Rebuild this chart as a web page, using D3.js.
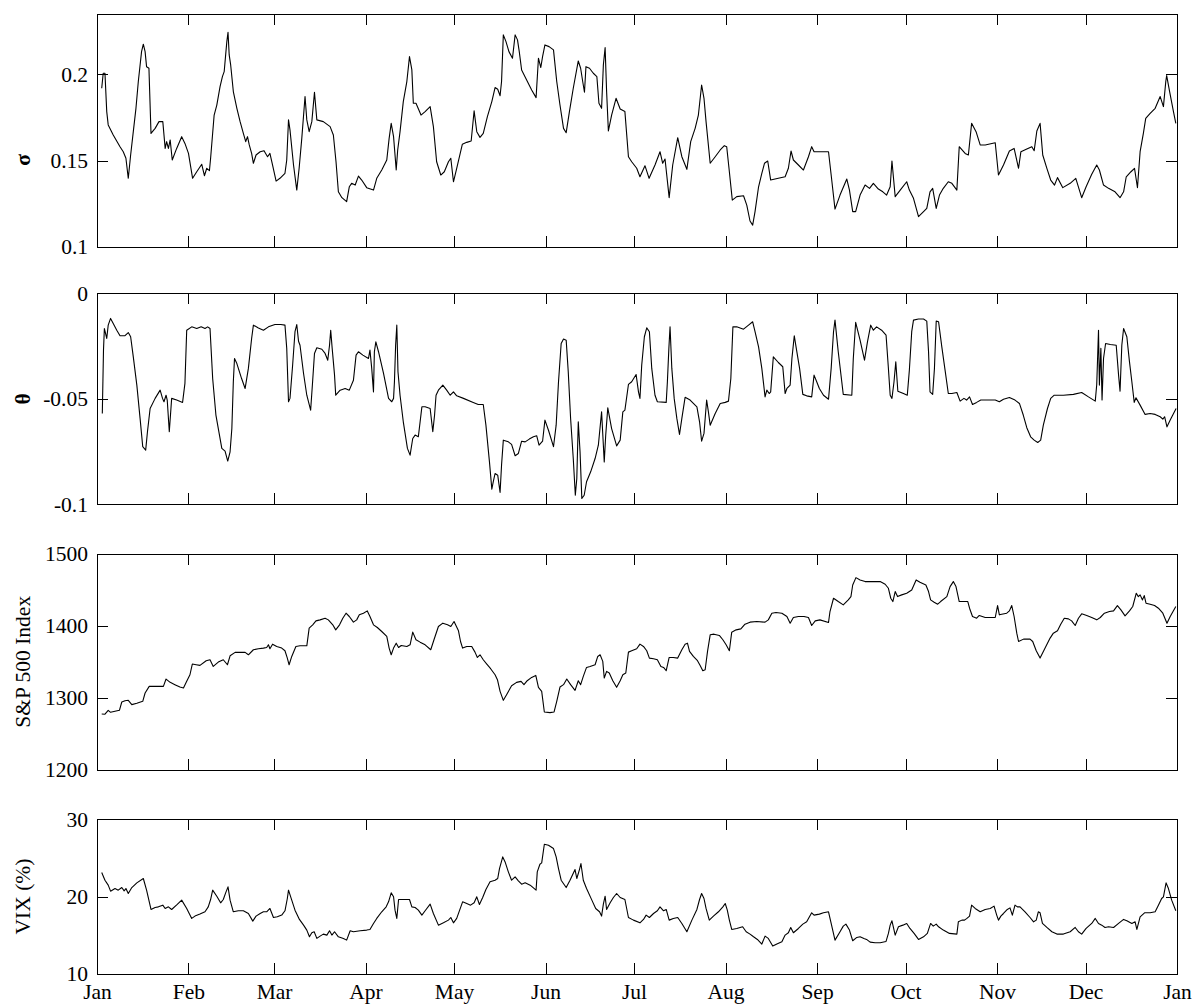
<!DOCTYPE html>
<html>
<head>
<meta charset="utf-8">
<script src="https://cdn.jsdelivr.net/npm/d3@7"></script>
<style>
  html, body { margin: 0; padding: 0; background: #fff; }
  svg text { font-family: "Liberation Serif", "Times New Roman", serif; fill: #000; }
</style>
</head>
<body>
<div id="chart"></div>
<script>
// day of year 2012 (0 = Jan 1) and value
const sigmaData = [
[1.6,.1919],[2.1,.2006],[2.7,.2006],[3.3,.1784],[3.8,.1707],[5.5,.1649],[7.8,.1581],[8.9,.1552],[9.8,.1514],[10.6,.1398],[11.4,.1533],[12.3,.1668],[13.2,.1803],[14.0,.1958],[15.1,.2131],[15.7,.2174],[16.3,.2131],[16.8,.2044],[17.6,.2035],[18.3,.1658],[19.7,.1687],[21.0,.1726],[22.3,.1726],[23.1,.1571],[23.6,.1610],[24.2,.1571],[24.8,.1620],[25.5,.1504],[27.0,.1571],[28.7,.1639],[29.8,.1600],[31.0,.1542],[32.4,.1398],[33.8,.1436],[35.5,.1479],[36.4,.1413],[37.2,.1456],[38.1,.1442],[38.5,.1514],[39.7,.1764],[40.6,.1822],[41.7,.1929],[42.5,.1986],[43.1,.2015],[43.6,.2112],[44.0,.2189],[44.4,.2243],[44.8,.2112],[45.3,.2054],[46.2,.1900],[47.4,.1803],[48.5,.1726],[49.6,.1658],[50.4,.1610],[51.0,.1639],[51.6,.1591],[52.4,.1542],[53.0,.1485],[53.9,.1533],[55.3,.1552],[56.6,.1558],[57.8,.1523],[58.6,.1542],[59.5,.1475],[60.7,.1382],[62.0,.1398],[63.7,.1427],[64.3,.1504],[64.9,.1736],[65.4,.1678],[66.6,.1475],[67.7,.1330],[68.5,.1456],[69.4,.1629],[70.5,.1871],[71.1,.1736],[71.9,.1668],[72.8,.1726],[73.7,.1896],[74.5,.1736],[76.7,.1726],[79.0,.1697],[80.1,.1649],[81.0,.1494],[81.8,.1320],[83.0,.1286],[84.6,.1263],[85.5,.1349],[86.3,.1369],[87.5,.1359],[88.6,.1411],[89.7,.1388],[91.4,.1344],[93.7,.1330],[94.8,.1398],[96.5,.1446],[98.2,.1504],[99.0,.1629],[99.7,.1716],[100.5,.1639],[101.4,.1446],[101.9,.1562],[102.7,.1668],[103.8,.1842],[105.0,.1958],[105.9,.2102],[106.7,.2025],[107.2,.1832],[108.1,.1832],[109.8,.1764],[111.2,.1784],[112.9,.1813],[114.0,.1697],[115.1,.1494],[116.5,.1417],[117.7,.1436],[119.1,.1494],[119.9,.1514],[120.8,.1378],
[121.9,.1456],[123.8,.1595],[125.3,.1606],[126.8,.1614],[127.8,.1788],[128.7,.1668],[129.8,.1635],[130.9,.1658],[132.3,.1755],[133.8,.1842],[134.9,.1923],[135.8,.1913],[136.6,.1876],[137.1,.1958],[137.7,.2228],[138.6,.2189],[139.6,.2131],[140.8,.2093],[141.7,.2228],[142.5,.2199],[143.1,.2131],[143.9,.2025],[145.6,.1967],[147.3,.1909],[148.8,.1865],[149.6,.2093],[150.4,.2039],[151.0,.2102],[151.8,.2170],[153.2,.2160],[154.7,.2141],[155.8,.1958],[156.9,.1822],[158.1,.1687],[159.0,.1662],[160.1,.1784],[161.4,.1919],[163.1,.2077],[163.9,.2035],[164.6,.1958],[165.2,.1896],[165.7,.2044],[166.9,.2035],[168.2,.2006],[169.4,.1986],[170.1,.1832],[171.0,.1803],[171.6,.2054],[172.2,.2154],[172.7,.1900],[173.3,.1672],[174.4,.1764],[175.9,.1861],[177.3,.1799],[178.9,.1784],[180.1,.1523],[181.2,.1494],[182.9,.1456],[184.0,.1407],[185.7,.1471],[187.1,.1398],[189.1,.1475],[190.8,.1552],[191.7,.1485],[192.5,.1510],[193.9,.1286],[195.1,.1475],[196.8,.1633],[198.2,.1523],[199.9,.1450],[201.2,.1610],[202.7,.1687],[203.8,.1764],[204.9,.1938],[205.7,.1861],[206.4,.1726],[207.8,.1485],[209.5,.1523],[211.2,.1562],[212.6,.1587],[213.4,.1581],[214.3,.1436],[215.3,.1272],[216.8,.1292],[219.1,.1297],[220.2,.1243],[221.3,.1151],[222.2,.1127],[223.0,.1205],[224.2,.1349],[225.3,.1427],[226.2,.1485],[227.3,.1498],[228.3,.1388],[230.9,.1398],[233.2,.1407],[234.3,.1456],[235.2,.1556],[236.0,.1504],[237.7,.1475],[239.4,.1446],[241.1,.1523],[242.2,.1581],[243.0,.1552],
[245.0,.1552],[247.9,.1552],[248.8,.1417],[250.1,.1220],[251.8,.1301],[254.1,.1394],[255.0,.1330],[256.1,.1205],[257.1,.1205],[258.6,.1301],[260.3,.1359],[261.8,.1340],[263.1,.1369],[264.8,.1336],[266.3,.1320],[267.6,.1301],[268.8,.1349],[269.4,.1498],[270.5,.1292],[272.2,.1330],[274.4,.1378],[275.3,.1330],[276.7,.1282],[278.4,.1176],[280.1,.1205],[281.2,.1224],[282.3,.1320],[283.2,.1340],[284.4,.1224],[285.5,.1301],[286.8,.1340],[288.5,.1378],[289.7,.1369],[291.4,.1330],[292.2,.1581],[294.2,.1542],[295.3,.1533],[296.4,.1716],[297.9,.1668],[299.3,.1591],[301.0,.1591],[304.4,.1604],[305.5,.1417],[307.2,.1475],[309.2,.1556],[310.8,.1571],[312.3,.1456],[313.1,.1552],[315.1,.1568],[316.8,.1581],[317.6,.1558],[318.5,.1672],[319.6,.1716],[320.5,.1533],[321.9,.1456],[323.2,.1388],[324.5,.1359],[325.5,.1402],[327.3,.1344],[329.8,.1369],[331.7,.1398],[333.7,.1286],[335.2,.1349],[337.1,.1421],[338.8,.1475],[339.7,.1446],[341.1,.1359],[342.8,.1340],[345.0,.1320],[346.7,.1286],[347.9,.1320],[348.8,.1407],[350.4,.1436],[351.6,.1456],[352.6,.1344],[353.5,.1552],[354.6,.1658],[355.4,.1745],[356.9,.1774],[358.6,.1803],[360.3,.1871],[361.4,.1813],[362.2,.1958],[362.5,.1992],[363.5,.1900],[364.8,.1784],[365.6,.1716]
];

const thetaData = [
[1.8,-.0570],[2.2,-.0269],[2.5,-.0167],[2.9,-.0190],[3.3,-.0214],[3.8,-.0151],[4.6,-.0119],[5.5,-.0143],[6.7,-.0175],[7.8,-.0201],[9.5,-.0201],[10.6,-.0186],[11.4,-.0206],[12.3,-.0301],[13.5,-.0435],[14.6,-.0593],[15.5,-.0727],[16.5,-.0743],[17.1,-.0656],[18.0,-.0546],[19.7,-.0498],[21.4,-.0459],[22.2,-.0498],[22.7,-.0514],[23.4,-.0483],[23.8,-.0506],[24.5,-.0656],[25.3,-.0498],[27.0,-.0506],[29.0,-.0517],[29.8,-.0427],[30.4,-.0175],[32.1,-.0159],[33.8,-.0167],[35.3,-.0159],[36.6,-.0167],[37.5,-.0159],[38.3,-.0167],[39.2,-.0404],[40.3,-.0577],[42.3,-.0735],[43.4,-.0748],[44.3,-.0795],[45.1,-.0751],[45.7,-.0641],[46.2,-.0419],[46.6,-.0309],[47.4,-.0333],[49.0,-.0404],[50.2,-.0451],[51.3,-.0356],[52.4,-.0214],[53.0,-.0151],[54.7,-.0164],[56.4,-.0175],[58.1,-.0159],[60.3,-.0148],[62.3,-.0148],[63.7,-.0151],[64.3,-.0261],[64.9,-.0514],[65.4,-.0498],[66.3,-.0340],[67.1,-.0182],[67.7,-.0148],[68.3,-.0227],[68.8,-.0246],[70.0,-.0380],[71.1,-.0483],[72.4,-.0554],[73.1,-.0412],[73.7,-.0285],[74.5,-.0258],[76.2,-.0265],[77.3,-.0285],[78.2,-.0317],[78.8,-.0246],[79.2,-.0175],[79.7,-.0261],[80.5,-.0388],[80.9,-.0483],[82.4,-.0459],[84.1,-.0451],[85.5,-.0459],[86.9,-.0412],[87.8,-.0293],[88.6,-.0277],[90.1,-.0293],[92.0,-.0309],[92.5,-.0269],[93.1,-.0356],[93.7,-.0467],[94.0,-.0277],[94.5,-.0230],[95.4,-.0277],[97.1,-.0380],[98.8,-.0498],[99.9,-.0514],[100.5,-.0498],[100.8,-.0419],[101.2,-.0246],[101.6,-.0151],[102.0,-.0372],[102.7,-.0483],[103.8,-.0609],[105.2,-.0735],[106.1,-.0767],[107.0,-.0688],[107.8,-.0672],[108.9,-.0680],[110.1,-.0538],[111.2,-.0538],[112.9,-.0546],[113.8,-.0656],[114.4,-.0577],[114.9,-.0483],[115.7,-.0459],[117.2,-.0435],[118.5,-.0459],[119.7,-.0483],[120.8,-.0467],
[121.9,-.0486],[124.2,-.0498],[127.5,-.0517],[129.2,-.0527],[130.9,-.0527],[131.8,-.0625],[133.0,-.0799],[133.8,-.0928],[134.3,-.0893],[134.9,-.0854],[135.8,-.0862],[136.6,-.0944],[137.1,-.0814],[137.7,-.0696],[139.4,-.0704],[140.5,-.0716],[141.7,-.0770],[142.8,-.0759],[143.9,-.0701],[145.1,-.0704],[146.5,-.0691],[147.9,-.0680],[149.0,-.0675],[149.8,-.0720],[151.0,-.0701],[151.8,-.0601],[153.0,-.0649],[154.7,-.0727],[155.6,-.0625],[156.4,-.0419],[157.3,-.0238],[158.1,-.0217],[159.0,-.0222],[159.7,-.0372],[160.5,-.0593],[161.4,-.0783],[162.1,-.0957],[162.6,-.0878],[163.1,-.0609],[163.7,-.0751],[164.3,-.0972],[165.1,-.0957],[165.9,-.0893],[167.3,-.0846],[168.8,-.0783],[169.9,-.0720],[171.0,-.0562],[171.6,-.0720],[171.9,-.0799],[172.4,-.0672],[173.1,-.0543],[174.4,-.0641],[176.1,-.0723],[177.3,-.0696],[178.2,-.0562],[178.9,-.0554],[180.1,-.0432],[181.2,-.0419],[182.7,-.0385],[183.5,-.0467],[184.0,-.0498],[184.6,-.0340],[185.5,-.0206],[186.3,-.0164],[187.2,-.0182],[188.0,-.0356],[189.1,-.0483],[189.9,-.0514],[192.9,-.0517],[193.3,-.0419],[193.8,-.0261],[194.2,-.0159],[194.8,-.0356],[195.6,-.0498],[196.5,-.0593],[197.4,-.0669],[198.2,-.0593],[199.3,-.0493],[201.0,-.0506],[203.3,-.0538],[204.2,-.0609],[204.9,-.0701],[205.7,-.0664],[206.6,-.0506],[207.2,-.0562],[207.8,-.0625],[209.5,-.0570],[211.2,-.0522],[212.9,-.0517],[214.0,-.0511],[214.8,-.0404],[215.5,-.0159],[216.8,-.0159],[219.1,-.0170],[220.8,-.0151],[222.2,-.0135],[223.0,-.0182],[224.2,-.0254],[225.3,-.0356],[226.4,-.0491],[227.0,-.0459],[227.8,-.0475],[228.3,-.0467],[229.2,-.0301],[230.9,-.0328],[232.4,-.0348],[233.2,-.0475],[233.8,-.0451],[234.9,-.0435],[235.5,-.0309],[236.3,-.0201],[236.9,-.0254],[238.1,-.0356],[239.2,-.0479],[240.5,-.0486],[242.2,-.0491],[243.0,-.0388],[243.9,-.0419],
[244.8,-.0451],[246.2,-.0483],[247.9,-.0502],[248.8,-.0356],[249.6,-.0182],[250.1,-.0127],[251.2,-.0277],[252.9,-.0479],[255.8,-.0483],[256.3,-.0309],[257.1,-.0138],[258.6,-.0222],[260.1,-.0317],[261.1,-.0230],[262.2,-.0151],[263.1,-.0175],[264.2,-.0159],[265.9,-.0175],[267.4,-.0198],[268.2,-.0356],[268.8,-.0483],[269.4,-.0498],[270.1,-.0419],[270.7,-.0325],[271.4,-.0464],[273.3,-.0475],[274.6,-.0483],[275.3,-.0364],[276.1,-.0182],[276.7,-.0127],[278.4,-.0122],[280.1,-.0122],[281.2,-.0132],[281.8,-.0277],[282.3,-.0467],[283.2,-.0479],[283.8,-.0356],[284.4,-.0132],[285.2,-.0135],[286.3,-.0254],[287.4,-.0364],[288.5,-.0475],[289.7,-.0475],[291.4,-.0470],[292.5,-.0511],[293.8,-.0498],[294.7,-.0506],[295.7,-.0491],[296.7,-.0527],[298.1,-.0517],[299.5,-.0506],[301.5,-.0506],[304.4,-.0506],[305.8,-.0514],[307.2,-.0502],[309.2,-.0494],[311.1,-.0506],[312.6,-.0522],[313.9,-.0577],[315.1,-.0637],[316.4,-.0680],[317.6,-.0696],[318.8,-.0707],[319.8,-.0696],[320.7,-.0625],[322.1,-.0546],[323.2,-.0498],[324.4,-.0483],[327.5,-.0483],[330.9,-.0479],[333.7,-.0470],[336.0,-.0491],[338.3,-.0511],[338.8,-.0432],[339.4,-.0175],[339.7,-.0435],[340.2,-.0261],[340.6,-.0506],[341.1,-.0309],[341.8,-.0238],[343.4,-.0243],[345.4,-.0246],[346.2,-.0388],[346.7,-.0464],[347.3,-.0246],[347.9,-.0167],[349.0,-.0206],[349.9,-.0325],[350.7,-.0419],[351.5,-.0517],[352.1,-.0495],[353.5,-.0530],[355.2,-.0574],[356.9,-.0570],[358.6,-.0574],[360.3,-.0585],[361.2,-.0596],[361.8,-.0585],[362.6,-.0633],[363.7,-.0601],[365.7,-.0546]
];

const spxData = [
[1.6,1277.3],[2.7,1277.0],[3.8,1282.4],[4.6,1279.6],[6.1,1281.0],[7.6,1282.4],[8.4,1294.0],[9.5,1295.8],[10.6,1296.3],[11.8,1290.3],[13.5,1292.1],[15.5,1294.9],[16.3,1306.5],[17.7,1315.7],[19.7,1315.7],[22.5,1315.7],[23.4,1325.9],[24.8,1321.3],[26.4,1318.1],[28.1,1314.8],[29.3,1313.4],[30.4,1322.7],[31.5,1331.9],[32.3,1346.8],[33.6,1345.8],[34.9,1344.9],[37.0,1351.4],[38.3,1352.8],[39.4,1343.5],[41.1,1349.5],[42.8,1352.8],[44.2,1345.8],[45.1,1358.3],[46.8,1363.0],[49.0,1363.0],[50.2,1363.0],[51.3,1359.7],[53.0,1366.7],[54.7,1368.1],[56.4,1369.0],[57.5,1369.9],[58.1,1373.6],[58.6,1368.1],[59.5,1374.5],[60.9,1371.3],[62.6,1369.0],[63.7,1365.3],[64.5,1355.1],[65.1,1345.8],[66.0,1357.4],[67.4,1371.3],[68.8,1372.2],[71.1,1372.2],[71.9,1396.8],[73.1,1401.4],[74.2,1406.9],[75.6,1408.3],[77.3,1410.6],[78.4,1408.3],[79.9,1401.4],[80.9,1394.4],[82.2,1401.4],[83.3,1410.6],[84.4,1417.6],[85.5,1413.0],[86.9,1405.1],[88.0,1408.3],[88.9,1415.3],[90.3,1417.6],[91.6,1420.8],[92.5,1413.0],[93.7,1401.4],[95.0,1397.7],[96.5,1392.1],[98.2,1385.2],[99.0,1369.0],[99.7,1359.7],[100.5,1369.0],[101.4,1375.9],[102.2,1369.9],[103.1,1372.7],[105.0,1371.3],[106.1,1373.6],[107.0,1391.2],[108.1,1380.6],[109.5,1377.3],[111.2,1373.6],[113.1,1366.7],[114.2,1380.6],[115.7,1399.1],[117.2,1403.7],[118.8,1401.4],[119.9,1399.1],[121.0,1406.0],
[122.5,1393.1],[123.2,1378.2],[123.9,1369.0],[125.3,1371.3],[127.0,1371.3],[128.1,1363.4],[128.9,1356.0],[129.8,1359.7],[130.9,1352.8],[132.1,1346.8],[133.4,1340.3],[134.9,1331.9],[135.7,1325.0],[136.6,1308.8],[137.7,1296.3],[138.8,1304.2],[140.5,1316.7],[142.2,1321.3],[143.7,1322.7],[144.7,1318.1],[145.8,1323.6],[147.3,1328.2],[148.7,1331.0],[149.6,1314.4],[150.7,1308.8],[151.6,1280.1],[153.5,1279.2],[154.9,1280.1],[155.8,1294.9],[156.9,1314.8],[158.1,1318.1],[159.2,1325.9],[160.5,1318.1],[162.0,1310.2],[163.1,1323.6],[163.9,1318.1],[164.8,1329.6],[165.9,1342.1],[167.1,1343.5],[168.8,1345.8],[169.7,1357.4],[170.5,1359.7],[171.4,1350.5],[171.9,1327.3],[172.7,1336.6],[173.6,1334.3],[174.8,1323.6],[176.1,1314.4],[177.3,1323.6],[178.2,1331.9],[179.2,1334.3],[180.1,1363.4],[181.2,1365.3],[182.9,1368.1],[184.0,1374.5],[185.2,1371.3],[186.3,1365.3],[187.2,1355.1],[188.6,1354.2],[189.9,1352.8],[191.1,1343.5],[192.0,1342.1],[192.9,1337.5],[193.9,1356.0],[195.3,1356.0],[196.8,1355.1],[198.2,1366.7],[199.3,1374.5],[200.1,1375.9],[200.8,1364.4],[202.1,1357.4],[203.5,1351.4],[204.4,1344.9],[205.3,1337.5],[206.1,1338.9],[206.9,1364.4],[207.8,1387.5],[209.1,1388.4],[210.9,1386.6],[212.1,1380.6],[213.2,1373.6],[214.3,1365.3],[215.1,1391.2],[216.6,1394.4],[218.2,1395.8],[219.6,1402.3],[221.3,1405.1],[223.6,1406.0],[226.4,1405.1],[227.5,1408.3],[228.7,1417.6],[230.1,1418.5],[232.1,1417.6],[233.8,1413.0],[234.9,1403.7],[236.0,1411.6],[237.7,1413.0],[239.6,1413.0],[241.1,1411.6],[242.2,1400.5],[243.4,1406.9],
[245.0,1408.3],[247.9,1404.6],[248.4,1419.9],[249.6,1438.4],[251.2,1433.8],[252.9,1429.2],[254.6,1436.1],[255.5,1440.7],[256.1,1456.9],[257.2,1467.1],[258.6,1463.9],[260.3,1461.6],[262.5,1461.6],[265.4,1461.6],[267.1,1457.9],[268.2,1452.3],[269.0,1438.4],[269.7,1433.8],[270.5,1447.7],[271.3,1440.7],[272.7,1443.1],[274.4,1445.4],[276.1,1450.0],[277.6,1463.9],[278.9,1460.6],[280.9,1456.9],[281.8,1447.7],[282.5,1436.1],[283.7,1432.9],[284.9,1430.1],[285.9,1433.8],[288.0,1440.7],[289.1,1454.6],[290.2,1461.6],[291.1,1454.6],[292.2,1433.8],[293.6,1433.8],[295.1,1433.8],[295.7,1424.5],[296.7,1413.0],[298.1,1410.6],[299.0,1414.4],[301.0,1411.6],[304.4,1411.6],[305.2,1428.2],[305.8,1415.3],[306.6,1416.2],[308.3,1417.6],[309.2,1420.8],[310.0,1428.2],[310.8,1413.0],[311.7,1389.8],[312.3,1378.2],[314.0,1381.5],[316.2,1381.5],[317.1,1378.2],[318.3,1365.3],[319.6,1355.1],[321.3,1369.0],[323.0,1382.9],[324.1,1389.8],[325.5,1393.1],[326.6,1402.3],[327.8,1410.6],[329.2,1409.7],[330.3,1406.9],[331.5,1400.5],[332.6,1410.6],[333.7,1416.7],[335.4,1414.4],[337.1,1411.6],[338.8,1408.3],[340.0,1411.6],[341.4,1417.6],[343.1,1419.9],[344.5,1420.8],[345.8,1428.2],[347.0,1422.2],[348.4,1413.9],[349.9,1420.8],[351.0,1426.9],[352.2,1445.4],[352.9,1440.7],[353.5,1443.1],[354.3,1436.1],[354.9,1442.1],[355.5,1431.5],[356.9,1430.1],[358.4,1428.2],[359.7,1424.5],[361.2,1417.6],[362.6,1403.7],[363.7,1413.0],[365.6,1426.9]
];

const vixData = [
[1.6,23.10],[2.7,22.11],[3.8,21.47],[4.6,20.69],[6.1,21.03],[7.2,20.82],[8.4,21.16],[9.2,20.73],[9.8,21.03],[10.6,20.39],[11.8,21.16],[13.5,21.77],[15.7,22.33],[16.8,20.82],[18.3,18.32],[19.7,18.58],[20.8,18.66],[22.3,18.88],[23.1,18.45],[24.2,18.66],[25.3,18.32],[27.2,18.97],[28.7,19.53],[30.4,18.45],[32.1,17.16],[33.2,17.46],[34.9,17.72],[36.6,18.02],[37.7,18.66],[38.5,19.61],[39.2,20.82],[40.6,20.04],[41.9,19.18],[42.8,19.61],[43.6,20.47],[44.4,21.25],[45.1,19.53],[46.2,18.02],[47.9,18.15],[49.6,18.15],[51.3,17.80],[52.8,16.81],[53.9,17.46],[55.3,17.80],[56.4,18.02],[57.5,18.02],[58.6,18.45],[59.8,17.28],[61.1,17.37],[62.6,17.59],[63.7,18.15],[64.5,19.74],[64.9,20.82],[66.0,19.53],[67.1,18.23],[68.6,17.03],[70.0,16.29],[71.1,15.65],[72.0,14.78],[72.8,15.30],[73.6,15.43],[74.5,14.57],[75.6,14.87],[76.7,15.13],[77.9,15.00],[78.8,15.56],[79.6,15.00],[80.5,15.43],[81.8,14.78],[83.5,14.57],[84.6,14.35],[85.8,15.56],[86.9,15.43],[89.2,15.56],[91.4,15.65],[92.5,15.73],[93.7,16.51],[94.8,17.16],[96.5,18.02],[98.0,18.66],[98.8,19.31],[99.7,20.47],[100.5,19.96],[101.0,18.23],[101.6,17.16],[102.2,19.61],[103.3,19.61],[105.9,19.61],[106.7,18.66],[107.8,18.58],[108.9,18.23],[110.1,17.59],[111.2,18.15],[112.9,19.01],[114.0,17.80],[115.7,16.29],[117.4,16.59],[119.1,16.94],[119.9,17.28],[120.8,16.59],[121.9,17.16],
[123.9,19.31],[125.3,19.09],[126.6,18.88],[127.8,19.18],[128.7,19.96],[129.6,18.97],[130.7,19.87],[131.8,20.91],[133.2,21.90],[134.9,22.11],[135.8,22.33],[136.4,23.62],[137.5,25.13],[138.3,24.48],[139.4,23.19],[140.5,22.11],[141.7,22.54],[142.8,22.03],[143.9,21.59],[145.1,21.77],[146.8,21.47],[148.8,20.82],[149.2,23.19],[150.1,24.18],[150.7,24.35],[151.6,26.77],[153.0,26.64],[154.7,26.21],[155.6,25.13],[156.4,23.62],[157.3,22.11],[159.0,21.16],[160.3,22.11],[162.0,23.49],[162.6,22.33],[163.5,23.49],[164.0,24.27],[164.8,22.11],[165.9,21.03],[167.7,19.53],[169.0,18.45],[170.3,18.02],[171.0,17.46],[171.6,19.01],[172.2,20.04],[172.7,18.32],[173.9,19.18],[175.0,19.87],[176.1,20.39],[177.3,19.87],[178.9,19.61],[180.1,17.28],[181.8,16.94],[184.0,16.59],[185.2,17.03],[186.1,17.59],[187.2,17.28],[188.6,17.80],[189.9,18.15],[190.8,18.66],[192.0,18.15],[192.9,18.32],[193.9,16.94],[195.3,17.16],[196.8,17.28],[198.2,16.51],[199.9,15.43],[201.6,16.94],[203.3,18.32],[204.2,19.61],[204.9,20.39],[205.7,19.74],[206.4,18.45],[207.5,16.94],[208.9,17.46],[210.6,18.02],[212.1,18.66],[212.9,19.09],[213.6,18.23],[214.3,16.94],[215.1,15.73],[216.8,15.86],[218.8,16.08],[220.0,15.43],[221.3,15.13],[222.5,14.78],[223.8,14.44],[225.3,13.84],[226.4,14.87],[227.5,14.57],[229.0,13.58],[230.4,13.84],[232.1,14.14],[233.2,15.00],[234.3,15.30],[235.1,15.99],[236.0,15.30],[237.7,15.86],[239.2,16.42],[240.5,16.72],[242.2,17.89],[243.0,17.59],[244.8,17.72],
[246.2,17.89],[247.9,18.02],[248.8,16.51],[250.1,14.35],[251.8,15.43],[252.9,16.16],[253.8,16.42],[255.0,15.65],[256.1,14.27],[257.5,14.70],[258.6,14.78],[259.9,14.57],[260.8,14.44],[262.0,14.09],[263.7,14.01],[265.4,14.01],[267.4,14.18],[268.2,15.22],[268.8,16.29],[269.4,16.85],[270.5,15.00],[271.6,16.08],[273.1,16.29],[274.4,16.51],[275.5,15.86],[276.9,15.22],[278.4,14.44],[280.1,14.78],[281.4,15.22],[282.5,16.51],[283.4,16.16],[284.4,16.42],[285.2,16.08],[286.8,15.65],[288.9,15.22],[291.4,15.13],[291.9,16.72],[293.1,16.94],[294.0,16.94],[294.8,17.16],[295.7,17.46],[296.4,18.88],[297.6,18.45],[299.3,18.02],[301.0,18.32],[302.7,18.45],[304.0,18.75],[304.9,17.59],[305.5,16.94],[306.3,17.46],[307.2,17.80],[308.5,18.32],[309.4,18.53],[310.2,17.59],[311.1,18.88],[311.9,18.66],[312.8,18.66],[314.5,18.02],[316.2,17.28],[317.4,16.72],[318.3,16.94],[319.0,18.02],[319.6,17.89],[320.4,16.51],[321.9,15.99],[323.6,15.43],[325.3,15.13],[327.5,15.13],[329.8,15.43],[331.5,15.99],[332.6,15.43],[333.7,15.13],[335.2,15.86],[337.1,16.51],[338.3,17.16],[339.4,16.51],[340.5,16.29],[341.6,15.99],[342.8,16.08],[344.5,15.99],[346.2,16.51],[347.9,17.03],[349.0,16.85],[350.7,16.51],[351.8,16.72],[352.4,15.73],[353.5,17.37],[355.0,17.89],[356.9,17.89],[358.6,18.02],[359.7,18.88],[360.8,19.74],[361.4,19.96],[362.3,21.77],[363.1,21.03],[364.2,19.53],[365.6,18.15]
];

const monthLabels = ["Jan","Feb","Mar","Apr","May","Jun","Jul","Aug","Sep","Oct","Nov","Dec","Jan"];
const sigmaTicks = [0.1, 0.15, 0.2];
const thetaTicks = [-0.1, -0.05, 0];
const spxTicks = [1200, 1300, 1400, 1500];
const vixTicks = [10, 20, 30];

const W = 1198, H = 1005;
const left = 97, right = 1177;
const fontSize = 21.5;

const panels = [
  { data: sigmaData, domain: [0.1, 0.2347], ticks: sigmaTicks, fmt: d => d === 0.1 ? "0.1" : d3.format("")(d),
    top: 14.3, bottom: 247.1, label: "σ", bold: true, labelY: 160 },
  { data: thetaData, domain: [-0.1, 0], ticks: thetaTicks, fmt: d => d === 0 ? "0" : String(d),
    top: 293.3, bottom: 504.3, label: "θ", bold: true },
  { data: spxData, domain: [1200, 1500], ticks: spxTicks, fmt: d => String(d),
    top: 554, bottom: 769.5, label: "S&P 500 Index" },
  { data: vixData, domain: [10, 30], ticks: vixTicks, fmt: d => String(d),
    top: 819.3, bottom: 973.7, label: "VIX (%)", xLabels: true }
];

const t0 = Date.UTC(2012, 0, 1);
const toDate = day => new Date(t0 + day * 864e5);
const x = d3.scaleUtc().domain([toDate(0), toDate(366)]).range([left, right]);
const monthTicks = d3.utcMonth.range(toDate(0), toDate(367));

const svg = d3.select("#chart").append("svg")
  .attr("width", W).attr("height", H)
  .attr("viewBox", [0, 0, W, H]);

panels.forEach(p => {
  const y = d3.scaleLinear().domain(p.domain).range([p.bottom, p.top]);
  const g = svg.append("g");

  const line = d3.line()
    .x(d => x(toDate(d[0])))
    .y(d => y(d[1]));

  g.append("path")
    .datum(p.data)
    .attr("fill", "none")
    .attr("stroke", "#000")
    .attr("stroke-width", 1.1)
    .attr("stroke-linejoin", "round")
    .attr("d", line);

  const tickLen = -11;

  const axL = g.append("g").attr("transform", `translate(${left},0)`)
    .call(d3.axisLeft(y).tickValues(p.ticks).tickFormat(p.fmt).tickSize(tickLen).tickSizeOuter(0).tickPadding(9));
  const axR = g.append("g").attr("transform", `translate(${right},0)`)
    .call(d3.axisRight(y).tickValues(p.ticks).tickFormat("").tickSize(tickLen).tickSizeOuter(0));
  const axT = g.append("g").attr("transform", `translate(0,${p.top})`)
    .call(d3.axisTop(x).tickValues(monthTicks).tickFormat("").tickSize(tickLen).tickSizeOuter(0));
  const axB = g.append("g").attr("transform", `translate(0,${p.bottom})`)
    .call(d3.axisBottom(x).tickValues(monthTicks)
      .tickFormat((d, i) => p.xLabels ? monthLabels[i] : "")
      .tickSize(tickLen).tickSizeOuter(0).tickPadding(10.5));

  [axL, axR, axT, axB].forEach(a => {
    a.select(".domain").attr("stroke", "#000").attr("stroke-width", 1).attr("shape-rendering", "crispEdges");
    a.selectAll(".tick line").attr("stroke", "#000").attr("stroke-width", 1).attr("shape-rendering", "crispEdges");
    a.selectAll("text")
      .style("font-family", '"Liberation Serif", "Times New Roman", serif')
      .style("font-size", fontSize + "px")
      .attr("fill", "#000");
  });

  const ly = p.labelY !== undefined ? p.labelY : (p.top + p.bottom) / 2;
  svg.append("text")
    .attr("transform", `translate(30,${ly}) rotate(-90)`)
    .attr("text-anchor", "middle")
    .style("font-size", fontSize + "px")
    .style("font-weight", p.bold ? "bold" : "normal")
    .text(p.label);
});
</script>
</body>
</html>
